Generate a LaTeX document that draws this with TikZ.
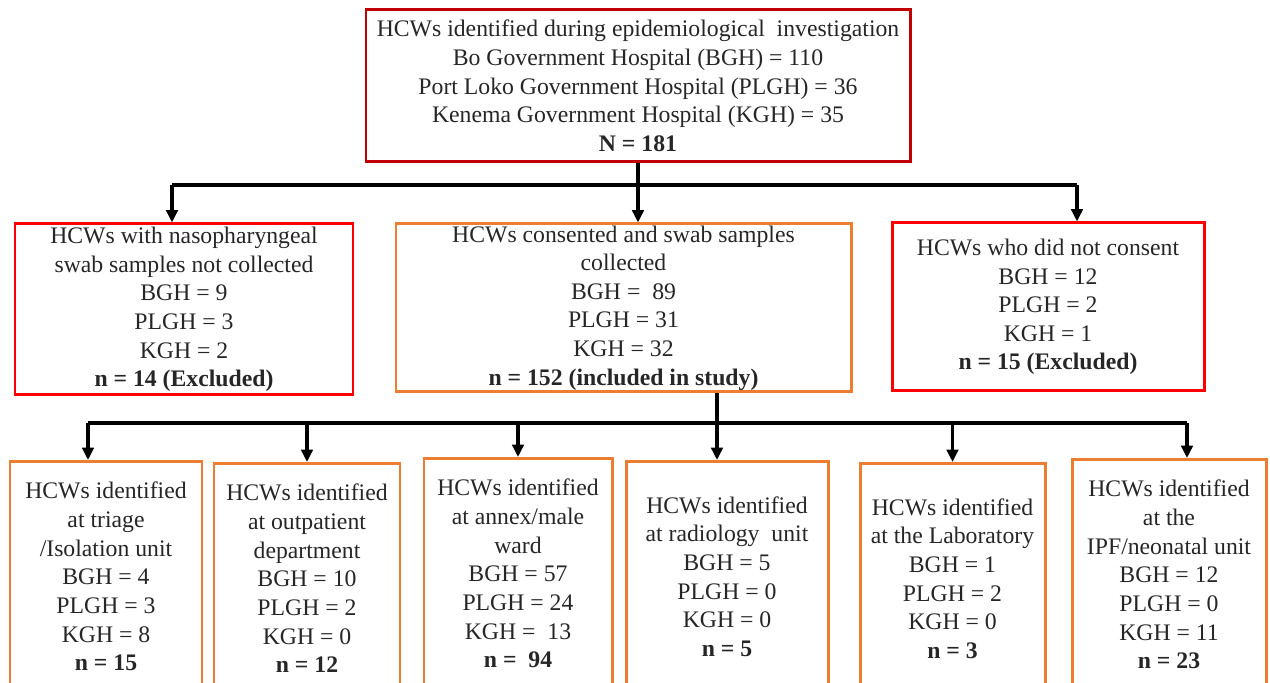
\documentclass[tikz,border=0pt]{standalone}
\usepackage{fontspec}
\setmainfont{Liberation Serif}
\usetikzlibrary{arrows.meta}
\definecolor{darkred}{HTML}{C00000}
\definecolor{brightred}{HTML}{FF0000}
\definecolor{boxorange}{HTML}{ED7D31}

\begin{document}
\begin{tikzpicture}[x=1cm, y=1cm,
  box/.style={draw, line width=1.7pt, align=center, inner sep=0pt, text=black!85,
    font=\fontsize{13.5}{16.3}\selectfont},
  redbox/.style={box, draw=brightred},
  orbox/.style={box, draw=boxorange},
  unit/.style={orbox, anchor=north, minimum height=4.6cm},
  line/.style={line width=1.8pt, black},
  arr/.style={-{Triangle[length=7pt,width=6.5pt]}, line width=1.8pt, black}]

\useasboundingbox (0,0) rectangle (25.4,13.66);
\clip (0,0) rectangle (25.4,13.66);

\node[box, draw=darkred, minimum width=10.88cm, minimum height=3.04cm] at (12.76,11.94) (ident)
  {HCWs identified during epidemiological\ \ investigation\\
   Bo Government Hospital (BGH) = 110\\
   Port Loko Government Hospital (PLGH) = 36\\
   Kenema Government Hospital (KGH) = 35\\
   \textbf{N = 181}};

\node[redbox, minimum width=6.76cm, minimum height=3.42cm] at (3.68,7.47) (notcoll)
  {HCWs with nasopharyngeal\\ swab samples not collected\\ BGH = 9\\ PLGH = 3\\ KGH = 2\\
   \textbf{n = 14 (Excluded)}};

\node[orbox, minimum width=9.1cm, minimum height=3.36cm] at (12.47,7.50) (consent)
  {HCWs consented and swab samples\\ collected\\ BGH = \ 89\\ PLGH = 31\\ KGH = 32\\
   \textbf{n = 152 (included in study)}};

\node[redbox, minimum width=6.24cm, minimum height=3.36cm] at (20.96,7.52) (nocons)
  {HCWs who did not consent\\ BGH = 12\\ PLGH = 2\\ KGH = 1\\
   \textbf{n = 15 (Excluded)}};

\node[unit, minimum width=3.84cm] at (2.12,4.46) (triage)
  {HCWs identified\\ at triage\\ /Isolation unit\\ BGH = 4\\ PLGH = 3\\ KGH = 8\\ \textbf{n = 15}};
\node[unit, minimum width=3.72cm] at (6.14,4.42) (opd)
  {HCWs identified\\ at outpatient\\ department\\ BGH = 10\\ PLGH = 2\\ KGH = 0\\ \textbf{n = 12}};
\node[unit, minimum width=3.76cm] at (10.36,4.52) (annex)
  {HCWs identified\\ at annex/male\\ ward\\ BGH = 57\\ PLGH = 24\\ KGH = \ 13\\ \textbf{n = \ 94}};
\node[unit, minimum width=4.04cm] at (14.54,4.46) (radio)
  {HCWs identified\\ at radiology\ \ unit\\ BGH = 5\\ PLGH = 0\\ KGH = 0\\ \textbf{n = 5}};
\node[unit, minimum width=3.7cm] at (19.05,4.42) (lab)
  {HCWs identified\\ at the Laboratory\\ BGH = 1\\ PLGH = 2\\ KGH = 0\\ \textbf{n = 3}};
\node[unit, minimum width=3.88cm] at (23.38,4.50) (ipf)
  {HCWs identified\\ at the\\ IPF/neonatal unit\\ BGH = 12\\ PLGH = 0\\ KGH = 11\\ \textbf{n = 23}};

% first split
\coordinate (j1) at (3.44,9.96);
\coordinate (j2) at (21.54,9.96);
\draw[line] (ident.south) -- (ident.south |- j1);
\draw[line] (j1) -- (j2);
\draw[arr] (j1) -- (j1 |- notcoll.north);
\draw[arr] (ident.south |- j1) -- (ident.south |- consent.north);
\draw[arr] (j2) -- (j2 |- nocons.north);

% second split
\coordinate (k0) at (14.34,5.20);
\coordinate (k1) at (1.76,5.20);
\coordinate (k2) at (23.74,5.20);
\draw[line] (consent.south -| k0) -- (k0);
\draw[line] (k1) -- (k2);
\draw[arr] (k1) -- (k1 |- triage.north);
\draw[arr] (opd.north |- k1) -- (opd.north);
\draw[arr] (annex.north |- k1) -- (annex.north);
\draw[arr] (k0) -- (k0 |- radio.north);
\draw[arr] (lab.north |- k1) -- (lab.north);
\draw[arr] (k2) -- (k2 |- ipf.north);
\end{tikzpicture}
\end{document}
